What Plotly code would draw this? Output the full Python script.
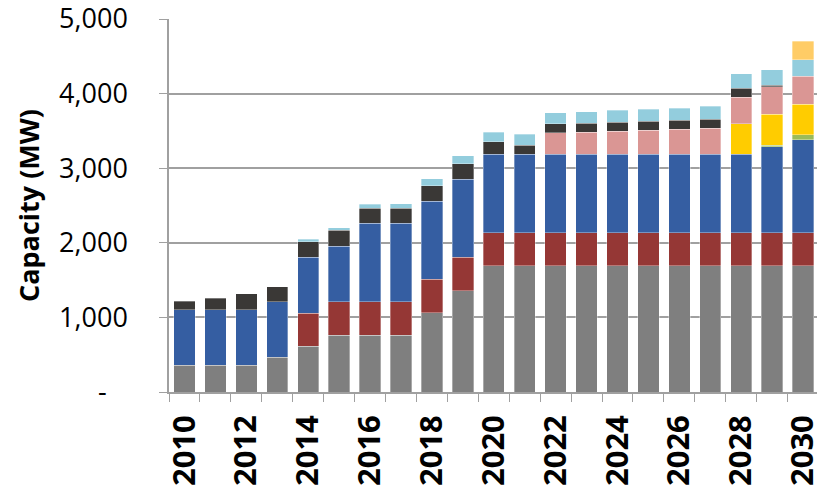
import plotly.graph_objects as go

# Installed capacity by year, MW per segment (stacked bottom to top)
years = list(range(2010, 2031))

grey = [360, 360, 360, 465, 610, 760, 760, 760, 1060, 1355,
        1690, 1690, 1690, 1690, 1690, 1690, 1690, 1690, 1690, 1690, 1690]
dark_red = [0, 0, 0, 0, 445, 450, 450, 450, 450, 450,
            445, 445, 445, 445, 445, 445, 445, 445, 445, 445, 445]
blue = [745, 745, 745, 745, 750, 745, 1050, 1050, 1050, 1050,
        1050, 1055, 1055, 1055, 1055, 1055, 1055, 1055, 1055, 1150, 1245]
green = [0, 0, 0, 0, 0, 0, 0, 0, 0, 0,
         0, 0, 0, 0, 0, 0, 0, 0, 0, 25, 70]
yellow = [0, 0, 0, 0, 0, 0, 0, 0, 0, 0,
          0, 0, 0, 0, 0, 0, 0, 0, 405, 410, 410]
pink = [0, 0, 0, 0, 0, 0, 0, 0, 0, 0,
        0, 0, 285, 290, 305, 320, 330, 345, 355, 370, 375]
charcoal = [110, 155, 215, 200, 210, 210, 200, 200, 205, 205,
            170, 120, 120, 120, 120, 120, 120, 120, 125, 25, 0]
light_blue = [0, 0, 0, 0, 35, 35, 55, 65, 95, 110,
              130, 145, 150, 155, 165, 160, 165, 175, 190, 205, 220]
light_orange = [0, 0, 0, 0, 0, 0, 0, 0, 0, 0,
                0, 0, 0, 0, 0, 0, 0, 0, 0, 0, 250]

y_ticks = [0, 1000, 2000, 3000, 4000, 5000]
y_tick_text = ["-\u00a0\u00a0\u00a0", "1,000", "2,000", "3,000", "4,000", "5,000"]
x_label_years = list(range(2010, 2031, 2))

segments = [
    ("Grey", grey, "#7f7f7f"),
    ("Dark red", dark_red, "#953735"),
    ("Blue", blue, "#355ea2"),
    ("Green", green, "#9bbb59"),
    ("Yellow", yellow, "#ffcc00"),
    ("Pink", pink, "#da9694"),
    ("Charcoal", charcoal, "#3a3836"),
    ("Light blue", light_blue, "#93cddd"),
    ("Light orange", light_orange, "#ffcc66"),
]

fig = go.Figure()
for name, values, colour in segments:
    fig.add_trace(go.Bar(
        x=years,
        y=[v if v else None for v in values],
        name=name,
        width=0.69,
        marker=dict(color=colour, line=dict(color="rgba(255,255,255,0.55)", width=0.6)),
    ))

axis_grey = "#a0a0a0"

fig.update_layout(
    width=817, height=492,
    barmode="stack",
    showlegend=False,
    paper_bgcolor="white",
    plot_bgcolor="white",
    margin=dict(l=169, r=0, t=19, b=100),
    font=dict(family="Open Sans", color="black"),
)

fig.update_xaxes(
    range=[2009.5, 2030.45],
    automargin=False,
    tickmode="array",
    tickvals=x_label_years,
    ticktext=[str(y) for y in x_label_years],
    tickangle=-90,
    tickfont=dict(family="Open Sans", size=31, weight="bold", color="black"),
    ticks="outside", ticklen=8, tickcolor="rgba(0,0,0,0)",
    ticklabelstandoff=1,
    ticklabeloverflow="allow",
    showgrid=False,
    showline=True, linecolor=axis_grey, linewidth=1.5,
    minor=dict(tickmode="array",
               tickvals=[y - 0.5 for y in years] + [years[-1] + 0.5],
               ticks="outside", ticklen=8, tickcolor=axis_grey, tickwidth=1.2,
               showgrid=False),
)

fig.update_yaxes(
    range=[0, 5000],
    automargin=False,
    tickmode="array",
    tickvals=y_ticks,
    ticktext=y_tick_text,
    tickfont=dict(family="Open Sans", size=27, color="black"),
    ticks="outside", ticklen=8, tickcolor=axis_grey, tickwidth=1.2,
    ticklabelstandoff=26,
    ticklabeloverflow="allow",
    showgrid=True, gridcolor=axis_grey, gridwidth=1.5,
    zeroline=False,
    showline=True, linecolor=axis_grey, linewidth=1.5,
    title=dict(text="Capacity (MW)",
               font=dict(family="Open Sans", size=27, weight="bold", color="black"),
               standoff=12),
)

fig.write_html("out.html")
